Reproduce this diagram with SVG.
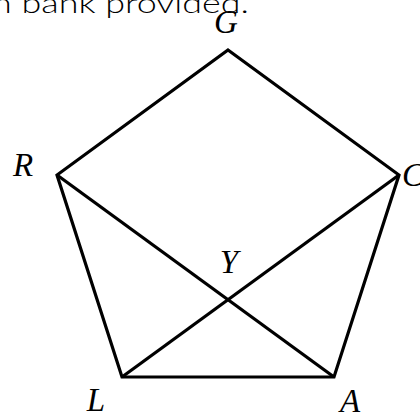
<svg xmlns="http://www.w3.org/2000/svg" width="420" height="416" viewBox="0 0 420 416">
<style>
.lbl{font-family:"Liberation Serif","DejaVu Serif",serif;font-style:italic;font-size:33px;fill:#000;text-anchor:middle}
.edge{stroke:#000;stroke-width:3.2;fill:none;stroke-linejoin:miter;stroke-linecap:butt}
.cap{font-family:"Lato","Liberation Sans",sans-serif;font-weight:300;font-size:27px;fill:#000}
</style>
<rect width="420" height="416" fill="#fff"/>
<text class="cap" x="-8" y="13" textLength="257" lengthAdjust="spacingAndGlyphs">n bank provided.</text>
<g id="connectors">
<polygon class="edge" points="228,50 399,175 334,377 122,377 57,175"/>
<line class="edge" x1="57" y1="175" x2="334" y2="377"/>
<line class="edge" x1="399" y1="175" x2="122" y2="377"/>
</g>
<g id="G"><text class="lbl" x="226" y="33">G</text></g>
<g id="R"><text class="lbl" x="23" y="176">R</text></g>
<g id="C"><text class="lbl" x="413" y="186">C</text></g>
<g id="Y"><text class="lbl" x="229" y="273">Y</text></g>
<g id="L"><text class="lbl" x="96" y="411">L</text></g>
<g id="A"><text class="lbl" x="350" y="412">A</text></g>
</svg>
